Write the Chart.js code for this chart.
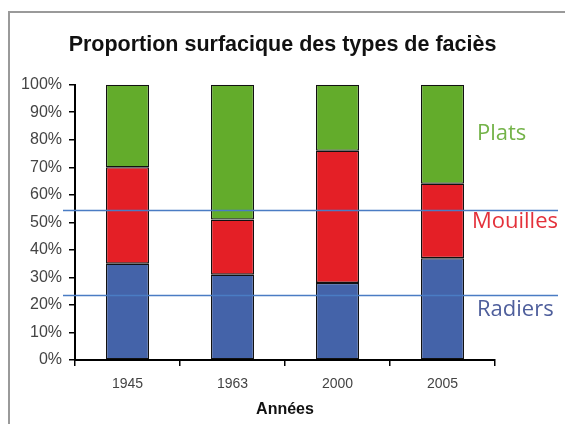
<!DOCTYPE html>
<html><head><meta charset="utf-8">
<script src="https://cdn.jsdelivr.net/npm/chart.js@4"></script>
<style>html,body{margin:0;padding:0;background:#fff}#wrap{width:565px;height:424px}</style>
</head><body><div id="wrap"><canvas id="c" width="565" height="424"></canvas></div>
<script>
const categories = ['1945', '1963', '2000', '2005'];
const radiers = [35, 31, 28, 37];
const mouilles = [35, 20, 48, 27];
const plats = [30, 49, 24, 36];
const refLines = [54.5, 23.5];
const seriesLabels = [
  {text: 'Plats', value: 82.3, color: '#74b349'},
  {text: 'Mouilles', value: 50.3, color: '#e4313b'},
  {text: 'Radiers', value: 18.3, color: '#4f5f9c'}
];

const framePlugin = {
  id: 'frame',
  beforeDraw(chart) {
    const ctx = chart.ctx;
    ctx.save();
    ctx.fillStyle = '#fff';
    ctx.fillRect(0, 0, chart.width, chart.height);
    ctx.strokeStyle = '#9a9a9a';
    ctx.lineWidth = 2;
    ctx.beginPath();
    ctx.moveTo(9, chart.height);
    ctx.lineTo(9, 12);
    ctx.lineTo(chart.width, 12);
    ctx.stroke();
    ctx.restore();
  }
};

const overlayPlugin = {
  id: 'overlay',
  afterDraw(chart) {
    const ctx = chart.ctx;
    const y = chart.scales.y;
    const area = chart.chartArea;
    ctx.save();
    ctx.strokeStyle = '#4a7cc4';
    ctx.lineWidth = 1.5;
    refLines.forEach(v => {
      const py = Math.round(y.getPixelForValue(v)) + 0.5;
      ctx.beginPath();
      ctx.moveTo(area.left - 12, py);
      ctx.lineTo(chart.width - 7, py);
      ctx.stroke();
    });
    ctx.font = '22px "Open Sans"';
    ctx.textBaseline = 'middle';
    ctx.textAlign = 'left';
    seriesLabels.forEach((l, i) => {
      ctx.fillStyle = l.color;
      ctx.fillText(l.text, area.right + (i === 1 ? -23 : -18), y.getPixelForValue(l.value));
    });
    ctx.restore();
  }
};

new Chart(document.getElementById('c'), {
  type: 'bar',
  data: {
    labels: categories,
    datasets: [
      {label: 'Radiers', data: radiers, backgroundColor: '#4463a9'},
      {label: 'Mouilles', data: mouilles, backgroundColor: '#e41f26'},
      {label: 'Plats', data: plats, backgroundColor: '#63ac2b'}
    ].map(d => Object.assign(d, {borderColor: '#111', borderWidth: 1.3, borderSkipped: false,
      categoryPercentage: 1, barPercentage: 0.41}))
  },
  options: {
    responsive: false,
    animation: false,
    layout: {padding: {left: 0, right: 0, top: 0, bottom: 5}},
    plugins: {
      legend: {display: false},
      tooltip: {enabled: false},
      title: {
        display: true,
        text: 'Proportion surfacique des types de faciès',
        color: '#111',
        font: {family: '"Liberation Sans", Arial, sans-serif', size: 21.5, weight: 'bold', lineHeight: 1.2},
        padding: {top: 32.6, bottom: 26.3}
      }
    },
    scales: {
      x: {
        stacked: true,
        afterFit(s) { s.height = 59; },
        grid: {display: true, drawOnChartArea: false, drawTicks: true, tickLength: 6, color: '#000', lineWidth: 1.5, offset: true},
        border: {display: true, color: '#000', width: 2},
        ticks: {color: '#444', padding: 9.5, font: {family: '"Liberation Sans", Arial, sans-serif', size: 14}},
        title: {display: true, text: 'Années', color: '#111',
          font: {family: '"Liberation Sans", Arial, sans-serif', size: 16, weight: 'bold'},
          padding: {top: 6, bottom: 0}}
      },
      y: {
        stacked: true,
        min: 0, max: 100,
        afterFit(s) { s.width = 75; },
        grid: {display: true, drawOnChartArea: false, drawTicks: true, tickLength: 6, color: '#000', lineWidth: 1.5},
        border: {display: true, color: '#000', width: 2},
        ticks: {stepSize: 10, color: '#444', padding: 7,
          font: {family: '"Liberation Sans", Arial, sans-serif', size: 16},
          callback: v => v + '%'}
      },
      yRight: {
        position: 'right',
        min: 0, max: 100,
        afterFit(s) { s.width = 70; },
        grid: {display: false},
        border: {display: false},
        ticks: {display: false}
      }
    }
  },
  plugins: [framePlugin, overlayPlugin]
});
</script></body></html>
